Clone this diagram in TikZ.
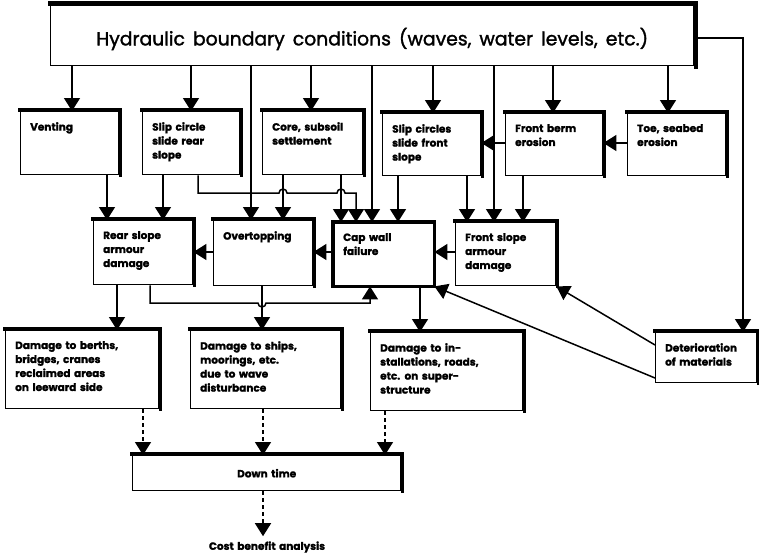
\documentclass[tikz,border=0pt]{standalone}
\usepackage{fontspec}
\setmainfont{Poppins}[WordSpace=1.6]
\usetikzlibrary{arrows.meta,calc}
\newcommand\mybox[6]{%
  \node[box, minimum width=#4-#2, minimum height=#5-#3] (#1) at (#2,#3) {};
  \node[lbl] (#1-t) at ([xshift=10pt,yshift=-11pt]#1.north west) {#6};%
}
\begin{document}
\begin{tikzpicture}[x=1pt,y=-1pt,
  box/.style={draw, line width=1.4pt, rectangle, inner sep=0pt, anchor=north west},
  thk/.style={line width=3.4pt, line cap=rect},
  lbl/.style={anchor=north west, align=left, inner sep=0pt, font=\bfseries\addfontfeatures{FakeBold=1.6}\fontsize{10.5}{14}\selectfont},
  con/.style={line width=1.5pt, -{Triangle[width=16pt,length=13pt]}},
  dsh/.style={con, dash pattern=on 4pt off 3pt},
]
\useasboundingbox (0,0) rectangle (759,557);
\fill[white] (0,0) rectangle (759,557);
% top box
\node[box, minimum width=643, minimum height=60] (top) at (50,5) {};
\node[font=\addfontfeatures{FakeBold=1.6}\fontsize{18.8}{20}\selectfont] (top-t) at ([yshift=-34pt]top.north) {Hydraulic boundary conditions (waves, water levels, etc.)};
% row 1
\mybox{vent}{20}{111}{118}{174}{Venting}
\mybox{scr}{142}{111}{239}{174}{Slip circle\\slide rear\\slope}
\mybox{core}{262}{111}{362}{174}{Core, subsoil\\settlement}
\mybox{scf}{382}{113}{480}{175}{Slip circles\\slide front\\slope}
\mybox{berm}{505}{113}{602}{175}{Front berm\\erosion}
\mybox{toe}{627}{113}{725}{175}{Toe, seabed\\erosion}
% row 2
\mybox{rear}{93}{220}{192}{284}{Rear slope\\armour\\damage}
\mybox{over}{213}{220}{312}{285}{Overtopping}
\mybox{cap}{333}{222}{433}{285}{Cap wall\\failure}
\mybox{front}{455}{222}{555}{285}{Front slope\\armour\\damage}
% row 3
\mybox{dberth}{5}{330}{158}{408}{Damage to berths,\\bridges, cranes\\reclaimed areas\\on leeward side}
\mybox{dship}{190}{330}{340}{408}{Damage to ships,\\moorings, etc.\\due to wave\\disturbance}
\mybox{dinst}{370}{332}{522}{410}{Damage to in-\\stallations, roads,\\etc. on super-\\structure}
\mybox{det}{655}{332}{756}{382}{Deterioration\\of materials}
% row 4
\node[box, minimum width=268, minimum height=35] (down) at (132,455) {};
\node[lbl, anchor=center] (down-t) at (down.center) {Down time};
\node[lbl, anchor=center] (cost) at (267,547) {Cost benefit analysis};
% thick shadow edges
\foreach \n in {vent,scr,core,scf,berm,toe,rear,over,front,dberth,dship,dinst,det,down}
  \draw[thk] ([yshift=1pt]\n.north west) -- ([xshift=1pt,yshift=1pt]\n.north east) -- ([xshift=1pt]\n.south east);
\draw[line width=4.8pt, line cap=rect] ([yshift=1.5pt]top.north west) -- ([xshift=1.5pt,yshift=1.5pt]top.north east) -- ([xshift=1.5pt]top.south east);
\draw[line width=3.6pt] (cap.north west) rectangle (cap.south east);
% connectors from top
\draw[con] (top.south -| 72,0) -- (vent.north -| 72,0);
\draw[con] (top.south -| 191,0) -- (scr.north -| 191,0);
\draw[con] (top.south -| 251,0) -- (over.north -| 251,0);
\draw[con] (top.south -| 311,0) -- (core.north -| 311,0);
\draw[con] (top.south -| 372,0) -- (cap.north -| 372,0);
\draw[con] (top.south -| 433,0) -- (scf.north -| 433,0);
\draw[con] (top.south -| 494,0) -- (front.north -| 494,0);
\draw[con] (top.south -| 553,0) -- (berm.north -| 553,0);
\draw[con] (top.south -| 668,0) -- (toe.north -| 668,0);
\draw[con] (top.east |- 0,38) -| (det.north -| 743,0);
% row 1 horizontal
\draw[con] (berm.west |- 0,143) -- (scf.east |- 0,143);
\draw[con] (toe.west |- 0,143) -- (berm.east |- 0,143);
% row 1 -> row 2
\draw[con] (vent.south -| 107,0) -- (rear.north -| 107,0);
\draw[con] (scr.south -| 163,0) -- (rear.north -| 163,0);
\draw[con] (scr.south -| 198,0) -- (198,193) -- (279,193)
  arc[start angle=180, end angle=360, radius=4] -- (337,193)
  arc[start angle=180, end angle=360, radius=4] -- (356,193) -- (cap.north -| 356,0);
\draw[con] (core.south -| 283,0) -- (over.north -| 283,0);
\draw[con] (core.south -| 341,0) -- (cap.north -| 341,0);
\draw[con] (scf.south -| 398,0) -- (cap.north -| 398,0);
\draw[con] (scf.south -| 467,0) -- (front.north -| 467,0);
\draw[con] (berm.south -| 523,0) -- (front.north -| 523,0);
% row 2 horizontal
\draw[con] (over.west |- 0,252) -- (rear.east |- 0,252);
\draw[con] (cap.west |- 0,252) -- (over.east |- 0,252);
\draw[con] (front.west |- 0,252) -- (cap.east |- 0,252);
% row 2 -> row 3
\draw[con] (rear.south -| 117,0) -- (dberth.north -| 117,0);
\draw[con] (over.south -| 262,0) -- (dship.north -| 262,0);
\draw[con] (rear.south -| 150,0) -- (150,303) -- (258,303)
  arc[start angle=180, end angle=0, radius=4] -- (370,303) -- (cap.south -| 370,0);
\draw[con] (cap.south -| 420,0) -- (dinst.north -| 420,0);
\draw[con] (det.west |- 0,378) -- (cap.south east);
\draw[con] (det.west |- 0,345) -- (front.south east);
% dashed
\draw[dsh] (dberth.south -| 143,0) -- (down.north -| 143,0);
\draw[dsh] (dship.south -| 263,0) -- (down.north -| 263,0);
\draw[dsh] (dinst.south -| 385,0) -- (down.north -| 385,0);
\draw[dsh, shorten >=5pt] (down.south -| 263,0) -- (cost.north -| 263,0);
\end{tikzpicture}
\end{document}
